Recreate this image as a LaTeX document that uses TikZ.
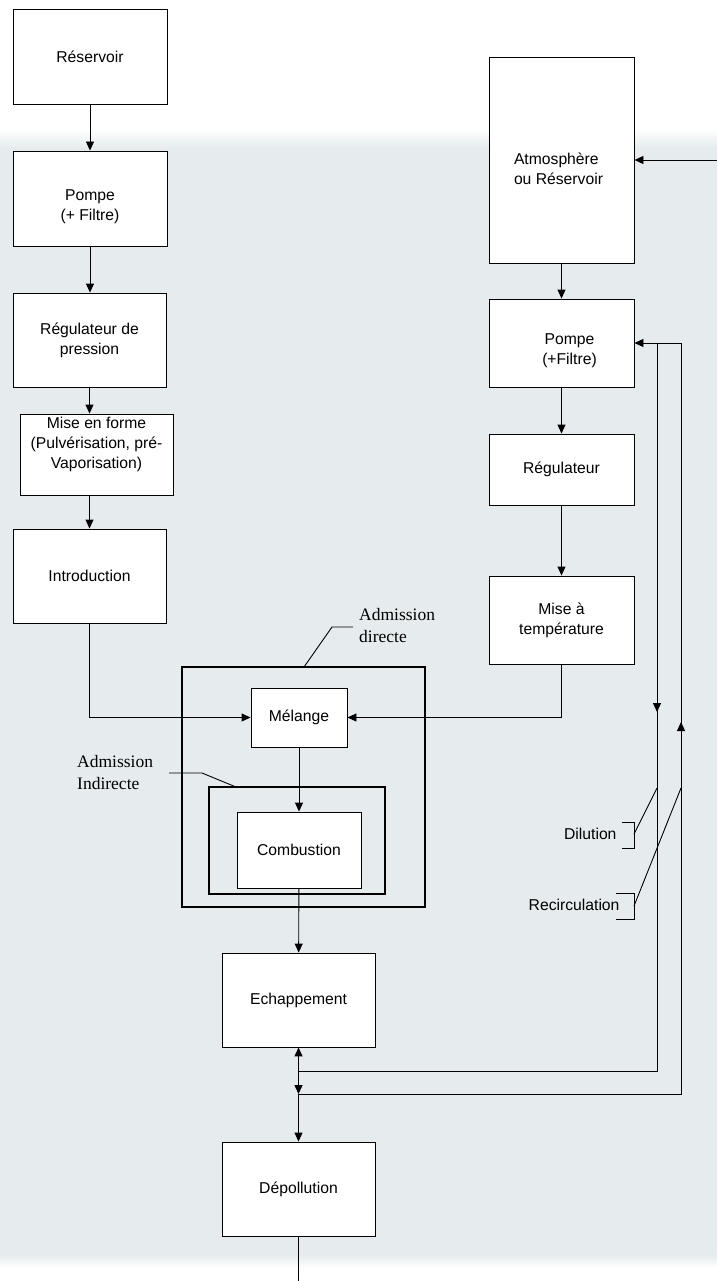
\documentclass[tikz,border=0pt]{standalone}
\usepackage{fontspec}
\setmainfont{Liberation Serif}
\setsansfont{Liberation Sans}
\usepackage{tikz}
\usetikzlibrary{arrows.meta}
\definecolor{fondgris}{HTML}{E6ECEE}

\tikzset{
  bloc/.style={draw, fill=white, line width=0.9pt, inner sep=0pt, align=center,
    font=\sffamily\fontsize{15.7}{20}\selectfont},
  zone/.style={draw, line width=1.8pt, inner sep=0pt},
  fleche/.style={line width=0.9pt, -{Triangle[length=9pt,width=8pt]}},
  trait/.style={line width=0.9pt},
  renvoi/.style={line width=0.9pt},
  etiq/.style={font=\sffamily\fontsize{15.7}{20}\selectfont},
  legende/.style={font=\rmfamily\fontsize{17.5}{22}\selectfont, align=left, inner sep=0pt},
}

\begin{document}
\begin{tikzpicture}[x=1pt, y=-1pt]
  \useasboundingbox (0,0) rectangle (717,1281);
  \fill[fondgris] (0,140) rectangle (717,1262);
  \shade[top color=white, bottom color=fondgris] (0,128) rectangle (717,148);
  \shade[top color=fondgris, bottom color=white] (0,1255) rectangle (717,1268);

  % carburant
  \node[bloc, minimum width=154pt, minimum height=95pt] (resG) at (90,56.5) {Réservoir};
  \node[bloc, minimum width=154pt, minimum height=95pt] (pompeG) at (90,198.5) {};
  \node[etiq, align=center] (pompeGt) at ([yshift=-8pt]pompeG.center) {Pompe\\ (+ Filtre)};
  \node[bloc, minimum width=153pt, minimum height=94pt] (regG) at (89.5,340) {Régulateur de\\pression};
  \node[bloc, minimum width=153pt, minimum height=81pt] (mef) at (96.5,454.5) {};
  \node[etiq, align=center, anchor=north, inner sep=3pt] (meft) at (mef.north) {Mise en forme\\(Pulvérisation, pré-\\Vaporisation)};
  \node[bloc, minimum width=153pt, minimum height=94pt] (intro) at (89.5,576) {Introduction};

  % comburant
  \node[bloc, minimum width=145pt, minimum height=206pt] (atm) at (561.5,160) {};
  \node[etiq, align=left] (atmt) at ([xshift=-3pt, yshift=-9pt]atm.center) {Atmosphère\\ou Réservoir};
  \node[bloc, minimum width=145pt, minimum height=88pt] (pompeD) at (561.5,343) {};
  \node[etiq, align=center] (pompeDt) at ([xshift=8pt, yshift=-8pt]pompeD.center) {Pompe\\(+Filtre)};
  \node[bloc, minimum width=145pt, minimum height=71pt] (regD) at (561.5,469.5) {Régulateur};
  \node[bloc, minimum width=145pt, minimum height=88pt] (temp) at (561.5,620) {Mise à\\température};

  % moteur
  \node[zone, minimum width=243pt, minimum height=240pt] (admD) at (303.5,787) {};
  \node[zone, minimum width=176pt, minimum height=107pt] (admI) at (297,840.5) {};
  \node[bloc, minimum width=96pt, minimum height=59pt] (mel) at (299,717.5) {Mélange};
  \node[bloc, minimum width=124pt, minimum height=76pt] (comb) at (299,850) {Combustion};
  \node[bloc, minimum width=153pt, minimum height=94pt] (ech) at (298.5,1000) {Echappement};
  \node[bloc, minimum width=153pt, minimum height=94pt] (dep) at (298.5,1189) {Dépollution};

  \node[legende, anchor=west] (lblD) at (359,626) {Admission\\directe};
  \draw[renvoi] (304,667) -- (332,627) -- (353,627);
  \node[legende, anchor=west] (lblI) at (77,773) {Admission\\Indirecte};
  \draw[renvoi] (169,773) -- (202,773) -- (236,787);

  % fleches
  \draw[fleche] (resG) -- (pompeG);
  \draw[fleche] (pompeG.south) -- (pompeG.south |- regG.north);
  \draw[fleche] (regG.south) -- (regG.south |- mef.north);
  \draw[fleche] (intro.north |- mef.south) -- (intro.north);
  \draw[fleche] (intro.south) |- (mel.west);
  \draw[fleche] (atm) -- (pompeD);
  \draw[fleche] (pompeD) -- (regD);
  \draw[fleche] (regD) -- (temp);
  \draw[fleche] (temp.south) |- (mel.east);
  \draw[fleche] (mel) -- (comb);
  \draw[fleche] (comb) -- (ech);
  \coordinate (bord) at (717,160);
  \draw[fleche] (bord) -- (atm.east);

  % dilution et recirculation
  \coordinate (jd) at (298.5,1071);
  \coordinate (jr) at (298.5,1094);
  \coordinate (hd) at (657,343);
  \coordinate (hr) at (681,343);
  \coordinate (md) at (657,712);
  \coordinate (mr) at (681,722);
  \draw[fleche] (jd) -| (hd) -- (pompeD.east);
  \draw[trait] (jr) -| (hr) -- (hd);
  \draw[fleche] (hd) -- (md);
  \draw[fleche] (hr |- jr) -- (mr);
  \draw[{Triangle[length=9pt,width=8pt]}-{Triangle[length=9pt,width=8pt]}, line width=1.4pt] (ech.south) -- (jr);
  \draw[fleche] (jr) -- (dep);
  \coordinate (bas) at (298.5,1281);
  \draw[trait] (dep) -- (bas);

  \node[etiq, anchor=east] (dil) at (620,834) {Dilution};
  \draw[renvoi] (622,822) -| (634,848) -- (622,848);
  \draw[renvoi] (634,834) -- (657,788);
  \node[etiq, anchor=east] (recirc) at (623,905) {Recirculation};
  \draw[renvoi] (616,893) -| (634,919) -- (616,919);
  \draw[renvoi] (634,906) -- (681,788);
\end{tikzpicture}
\end{document}
